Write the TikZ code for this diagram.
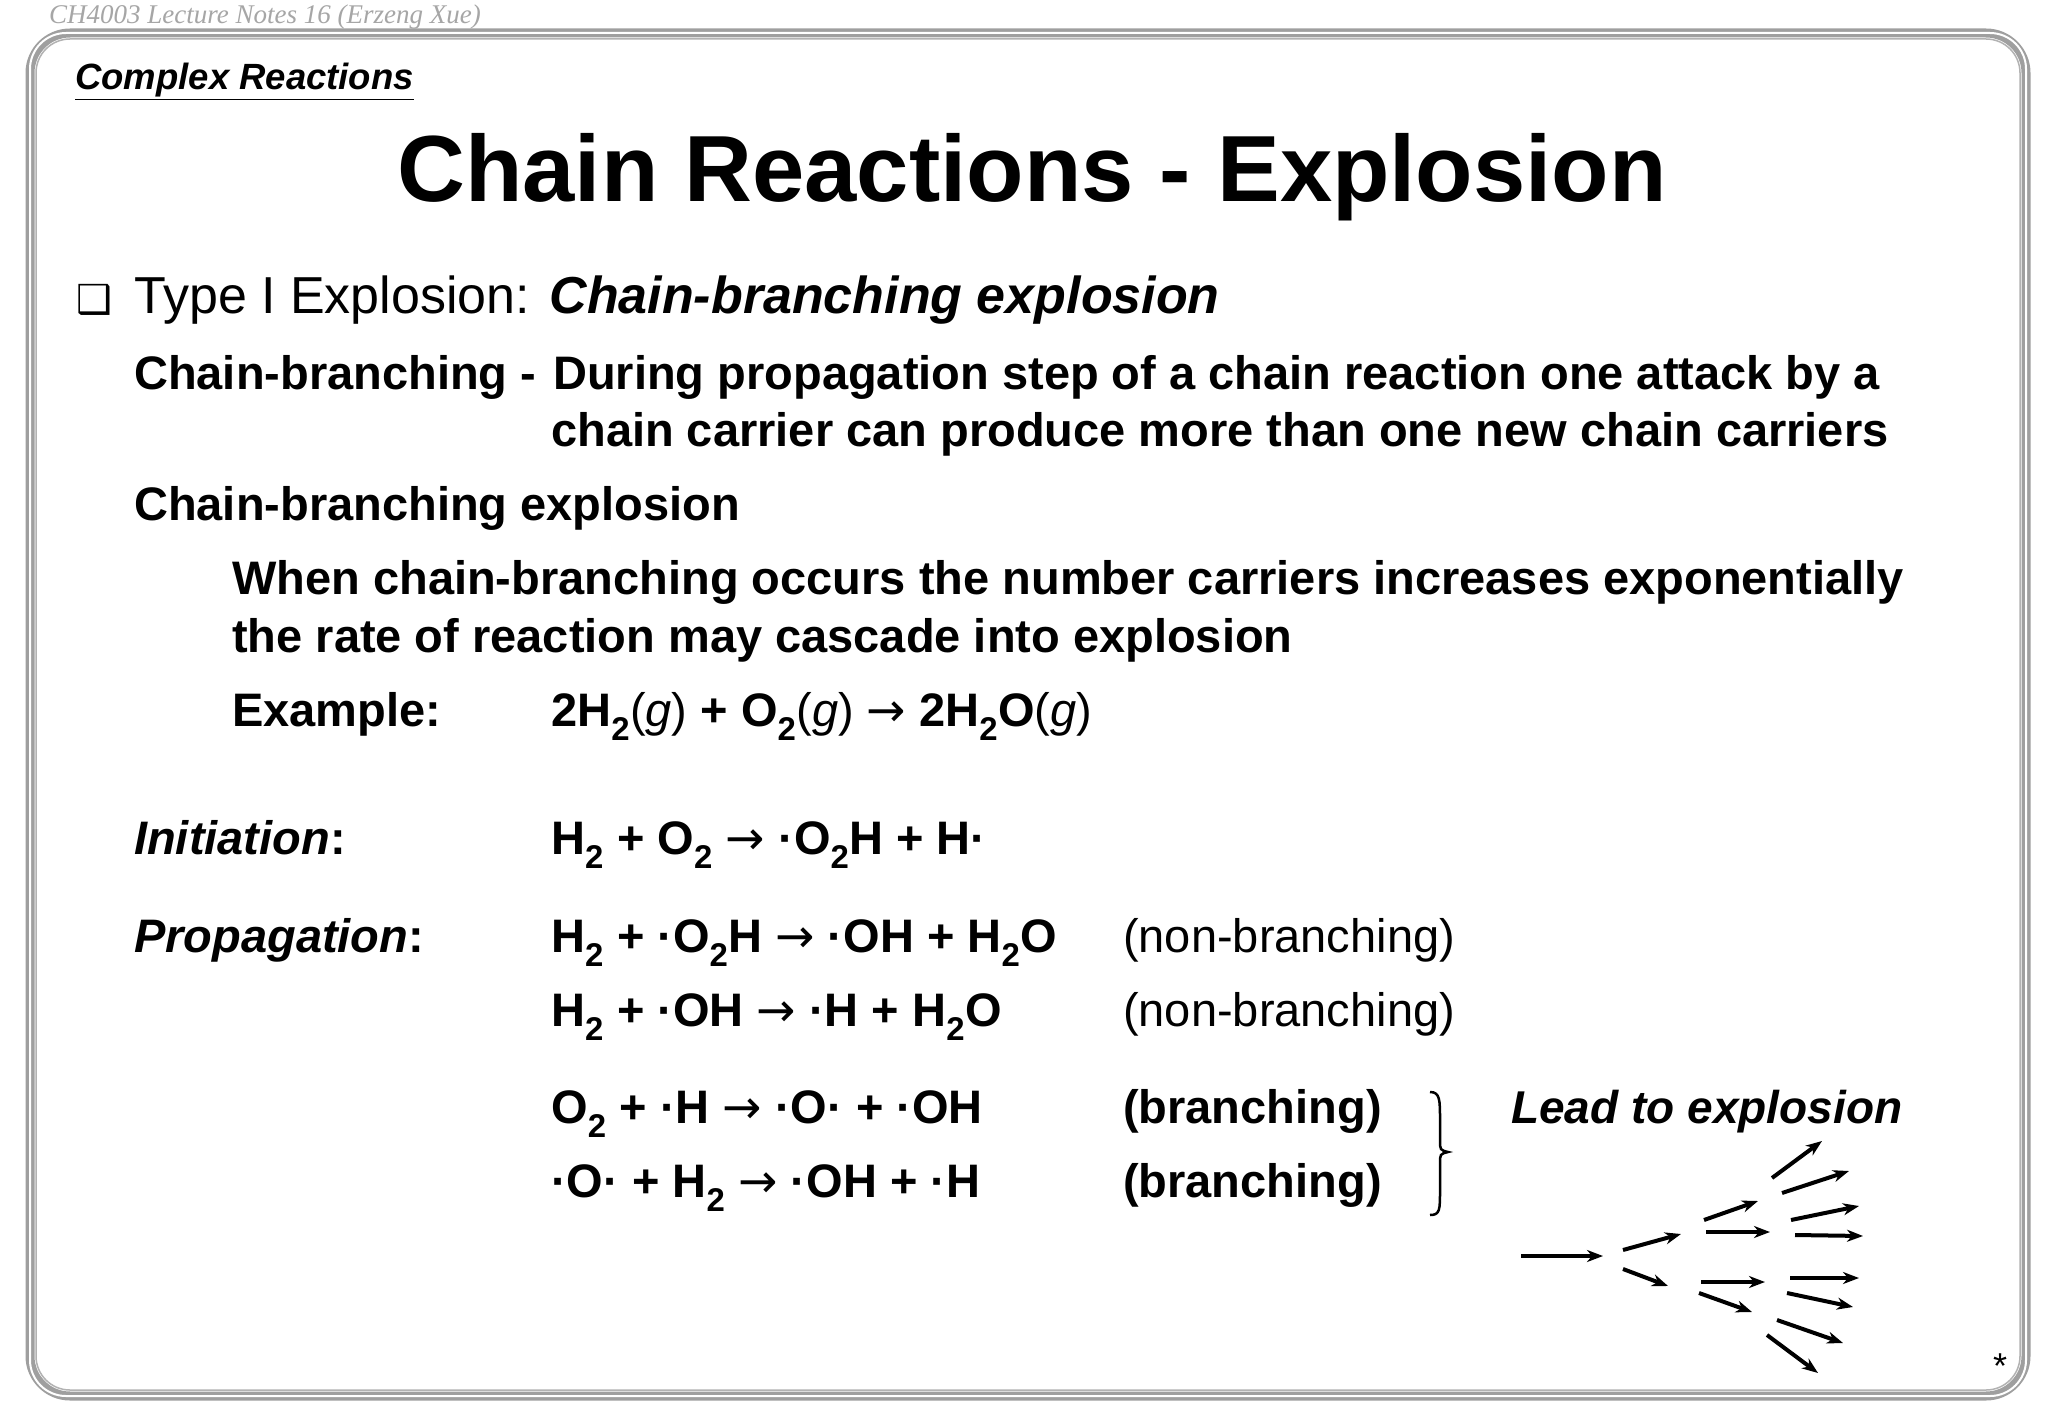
\documentclass[tikz,border=0pt]{standalone}
\usepackage{fontspec}
\setmainfont{Liberation Sans}
\newfontfamily\serifit{Liberation Serif}
\newfontfamily\arrfont{DejaVu Sans}
\usetikzlibrary{arrows.meta}
\newcommand{\subx}[1]{\textsubscript{#1}}
\newcommand{\gph}{\textnormal{(\textit{g})}}
\newcommand{\rarr}{{\arrfont\mdseries →}}
\begin{document}
\begin{tikzpicture}[x=1pt,y=-1pt,
  txt/.style={anchor=base west,inner sep=0pt},
  body/.style={txt,font=\fontsize{47}{50}\selectfont\bfseries},
  reg/.style={txt,font=\fontsize{47}{50}\selectfont},
  arr/.style={line width=4pt,-{Stealth[length=16pt,width=12pt,inset=5pt]}}]
\useasboundingbox (0,0) rectangle (2048,1418);
\fill[white] (0,0) rectangle (2048,1418);
% frame
\draw[gray!75,line width=9pt,rounded corners=40pt] (30,33) rectangle (2026,1396);
\draw[white,line width=2pt,rounded corners=36pt] (30,33) rectangle (2026,1396);
\draw[gray!60,line width=1.5pt,rounded corners=34pt] (36,39) rectangle (2020,1390);
\node[txt,text=gray!70,font=\fontsize{27}{30}\serifit\itshape] (hdr) at (49,24) {CH4003 Lecture Notes 16 (Erzeng Xue)};
\node[txt,font=\fontsize{36.5}{40}\selectfont\bfseries\itshape] (cr) at (75,90) {\underline{Complex Reactions}};
\node[anchor=base,inner sep=0pt,font=\fontsize{94}{100}\selectfont\bfseries] (title) at (1032,201) {Chain Reactions - Explosion};
\node[txt,font=\fontsize{40}{40}\selectfont] (box) at (76,313) {\arrfont ❑};
\node[txt,font=\fontsize{52}{56}\selectfont] (t1) at (134,313) {Type I Explosion: \textbf{\textit{Chain-branching explosion}}};
\node[body] (cb) at (134,389) {Chain-branching - };
\node[body] (cb1) at (553,389) {During propagation step of a chain reaction one attack by a};
\node[body] (cb2) at (551,446) {chain carrier can produce more than one new chain carriers};
\node[body] (cbe) at (134,520) {Chain-branching explosion};
\node[body] (w1) at (232,594) {When chain-branching occurs the number carriers increases exponentially};
\node[body] (w2) at (232,652) {the rate of reaction may cascade into explosion};
\node[body] (ex) at (232,726) {Example:};
\node[body] (exq) at (551,726) {2H\subx{2}\gph{} + O\subx{2}\gph{} \rarr{} 2H\subx{2}O\gph};
\node[body] (ini) at (134,854) {\textit{Initiation}:};
\node[body] (iniq) at (551,854) {H\subx{2} + O\subx{2} \rarr{} ·O\subx{2}H + H·};
\node[body] (pro) at (134,952) {\textit{Propagation}:};
\node[body] (p1) at (551,952) {H\subx{2} + ·O\subx{2}H \rarr{} ·OH + H\subx{2}O};
\node[reg] (n1) at (1123,952) {(non-branching)};
\node[body] (p2) at (551,1026) {H\subx{2} + ·OH \rarr{} ·H + H\subx{2}O};
\node[reg] (n2) at (1123,1026) {(non-branching)};
\node[body] (p3) at (551,1123) {O\subx{2} + ·H \rarr{} ·O· + ·OH};
\node[body] (b1) at (1123,1123) {(branching)};
\node[body] (p4) at (551,1197) {·O· + H\subx{2} \rarr{} ·OH + ·H};
\node[body] (b2) at (1123,1197) {(branching)};
\draw[line width=2.5pt] (1430,1092) .. controls (1440,1092) and (1440,1100) .. (1440,1120) -- (1440,1140) .. controls (1440,1150) .. (1448,1152) .. controls (1440,1154) .. (1440,1164) -- (1440,1190) .. controls (1440,1210) and (1440,1215) .. (1430,1215);
\node[body,font=\fontsize{46}{50}\selectfont\bfseries\itshape] (lead) at (1511,1123) {Lead to explosion};
\node[txt,font=\fontsize{36}{40}\selectfont] (star) at (1993,1378) {*};
% arrows
\begin{scope}[yshift=7pt]
\draw[arr] (1521,1263) -- (1603,1263);
\draw[arr] (1623,1257) -- (1681,1241);
\draw[arr] (1623,1276) -- (1668,1293);
\draw[arr] (1704,1227) -- (1758,1208);
\draw[arr] (1706,1239) -- (1770,1239);
\draw[arr] (1701,1289) -- (1765,1289);
\draw[arr] (1699,1300) -- (1752,1319);
\draw[arr] (1772,1185) -- (1822,1148);
\draw[arr] (1782,1200) -- (1849,1178);
\draw[arr] (1791,1227) -- (1859,1213);
\draw[arr] (1795,1242) -- (1863,1243);
\draw[arr] (1790,1285) -- (1859,1285);
\draw[arr] (1787,1300) -- (1853,1314);
\draw[arr] (1777,1327) -- (1843,1350);
\draw[arr] (1767,1342) -- (1818,1380);
\end{scope}
\end{tikzpicture}
\end{document}
